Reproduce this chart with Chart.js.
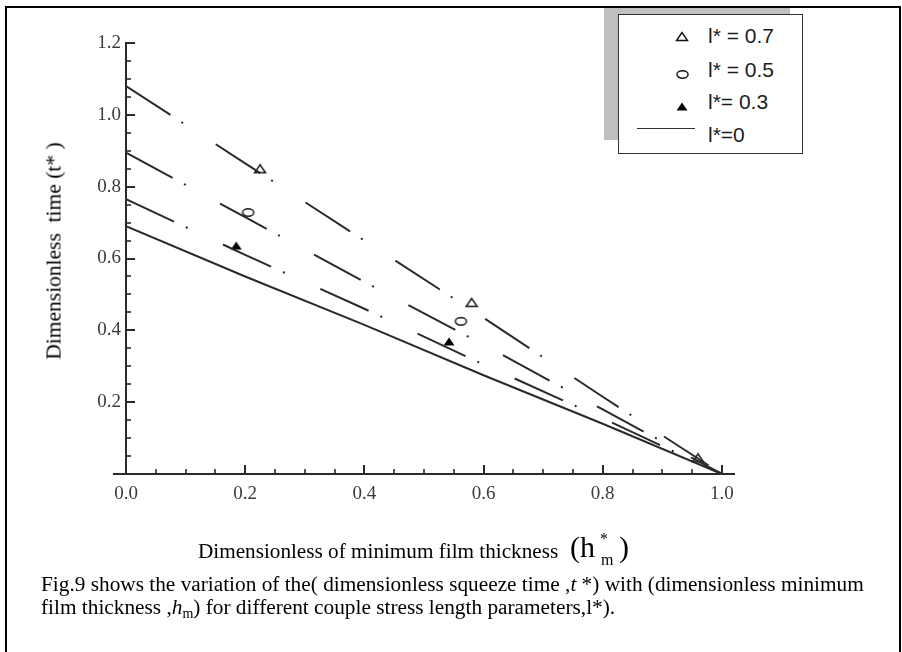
<!DOCTYPE html>
<html><head><meta charset="utf-8">
<script src="https://cdn.jsdelivr.net/npm/chart.js@4.4.1/dist/chart.umd.min.js"></script>
<style>
html,body{margin:0;padding:0;background:#fff;}
body{width:902px;height:652px;position:relative;overflow:hidden;}
#c{position:absolute;left:0;top:0;}
#frame{position:absolute;left:5px;top:6px;width:892px;height:660px;border:2px solid #000;border-bottom:none;}
#shadow{position:absolute;left:604px;top:8px;width:186px;height:132px;background:#c0c0c0;}
#legend{position:absolute;left:618px;top:14px;width:185px;height:140px;box-sizing:border-box;border:1.5px solid #333;background:#fff;}
.t{position:absolute;white-space:pre;line-height:0;color:#000;font-family:"Liberation Serif","Times New Roman",serif;}
.lg{position:absolute;white-space:pre;line-height:0;color:#1c1c1c;font-family:"Liberation Sans",Arial,sans-serif;}
#ytitle{position:absolute;left:53.5px;top:250.5px;transform:translate(-50%,-50%) rotate(-90deg);white-space:pre;font-family:"Liberation Serif","Times New Roman",serif;font-size:21.5px;color:#000;}
.mk{position:absolute;}
</style>
</head>
<body>
<div id="frame"></div>
<canvas id="c" width="902" height="652"></canvas>
<div id="shadow"></div>
<div id="legend"></div>
<div id="ytitle">Dimensionless  time (t* )</div>
<script>
// ---- data ----
const hm  = [0, 0.2, 0.4, 0.6, 0.8, 1.0];
const t07 = [1.08, 0.865, 0.65, 0.435, 0.215, 0];
const t05 = [0.895, 0.715, 0.535, 0.36, 0.18, 0];
const t03 = [0.765, 0.61, 0.46, 0.305, 0.155, 0];
const t00 = [0.69, 0.55, 0.415, 0.275, 0.14, 0];

const m07x = [0.225, 0.58, 0.96];
const m07y = [0.85, 0.478, 0.045];
const m05x = [0.205, 0.562];
const m05y = [0.728, 0.425];
const m03x = [0.185, 0.542];
const m03y = [0.636, 0.369];

const xTicks = [0, 0.2, 0.4, 0.6, 0.8, 1.0];
const xTickLabels = ['0.0','0.2','0.4','0.6','0.8','1.0'];
const yTicks = [0.2, 0.4, 0.6, 0.8, 1.0, 1.2];
const yTickLabels = ['0.2','0.4','0.6','0.8','1.0','1.2'];
const minorStep = 0.05;

const legendLabels = ['l* = 0.7', 'l* = 0.5', 'l*= 0.3', 'l*=0'];

// ---- marker images ----
function mkCanvas(w,h,draw){const c=document.createElement('canvas');c.width=w;c.height=h;const g=c.getContext('2d');draw(g);return c;}
const triOpen = mkCanvas(14,11,g=>{g.strokeStyle='#111';g.lineWidth=1.4;g.beginPath();g.moveTo(1.5,9.5);g.lineTo(12.5,9.5);g.lineTo(7,1.5);g.closePath();g.fillStyle='#fff';g.fill();g.stroke();});
const triFill = mkCanvas(14,11,g=>{g.fillStyle='#000';g.beginPath();g.moveTo(1.5,9.5);g.lineTo(12.5,9.5);g.lineTo(7,1.5);g.closePath();g.fill();});
const ellOpen = mkCanvas(15,11,g=>{g.strokeStyle='#111';g.lineWidth=1.4;g.beginPath();g.ellipse(7.5,5.5,5.6,3.7,0,0,Math.PI*2);g.fillStyle='#fff';g.fill();g.stroke();});

const pts = (xs,ys)=>xs.map((v,i)=>({x:v,y:ys[i]}));
const dashDot = [53, 13, 2, 39];
const lineCol = '#2a2a2a';

function lineDs(data, dash){
  return {data:pts(hm,data), showLine:true, borderColor:lineCol, borderWidth:2, borderDash:dash, pointRadius:0, fill:false, tension:0};
}
function markDs(xs,ys,img){
  return {data:pts(xs,ys), showLine:false, pointStyle:img, pointRadius:6, pointHoverRadius:6};
}

const axisPlugin = {
  id:'axesDraw',
  afterDatasetsDraw(chart){
    const {ctx, scales:{x,y}} = chart;
    const x0 = x.getPixelForValue(0), y0 = y.getPixelForValue(0);
    ctx.save();
    ctx.strokeStyle = '#2b2b2b';
    ctx.lineWidth = 2;
    ctx.beginPath();
    ctx.moveTo(x.getPixelForValue(-0.022), y0);
    ctx.lineTo(x.getPixelForValue(1.022), y0);
    ctx.moveTo(x0, y0);
    ctx.lineTo(x0, y.getPixelForValue(1.2) - 1);
    ctx.stroke();
    // y ticks
    for (let v = minorStep; v <= 1.2001; v += minorStep) {
      const major = Math.abs(v/0.2 - Math.round(v/0.2)) < 1e-6;
      const py = Math.round(y.getPixelForValue(v));
      ctx.lineWidth = major ? 2 : 1.6;
      ctx.beginPath(); ctx.moveTo(x0, py); ctx.lineTo(x0 + (major ? 9 : 5), py); ctx.stroke();
    }
    for (let v = minorStep; v <= 1.0001; v += minorStep) {
      const major = Math.abs(v/0.2 - Math.round(v/0.2)) < 1e-6;
      const px = Math.round(x.getPixelForValue(v));
      ctx.lineWidth = major ? 2 : 1.6;
      ctx.beginPath(); ctx.moveTo(px, y0); ctx.lineTo(px, y0 - (major ? 9 : 5)); ctx.stroke();
    }
    ctx.restore();
  }
};

new Chart(document.getElementById('c'), {
  type:'scatter',
  data:{datasets:[
    lineDs(t07, dashDot),
    lineDs(t05, dashDot),
    lineDs(t03, dashDot),
    lineDs(t00, []),
    markDs(m07x, m07y, triOpen),
    markDs(m05x, m05y, ellOpen),
    markDs(m03x, m03y, triFill)
  ]},
  options:{
    responsive:false, animation:false, devicePixelRatio:1,
    layout:{padding:{left:0, right:167, top:43, bottom:138}},
    plugins:{legend:{display:false}, tooltip:{enabled:false}},
    scales:{
      x:{type:'linear', min:0, max:1.022,
        afterBuildTicks:s=>{s.ticks = xTicks.map(v=>({value:v}));},
        afterFit:s=>{s.height = 40;},
        grid:{display:false, drawTicks:false}, border:{display:false},
        ticks:{padding:9, color:'#3a3a3a', font:{family:'"Liberation Serif", serif', size:19}, callback:(v,i)=>xTickLabels[i]}
      },
      y:{type:'linear', min:0, max:1.2,
        afterBuildTicks:s=>{s.ticks = yTicks.map(v=>({value:v}));},
        afterFit:s=>{s.width = 126;},
        grid:{display:false, drawTicks:false}, border:{display:false},
        ticks:{padding:5, color:'#3a3a3a', font:{family:'"Liberation Serif", serif', size:19}, callback:(v,i)=>yTickLabels[i]}
      }
    }
  },
  plugins:[axisPlugin]
});

// ---- text helpers (baseline placement) ----
function addText(html, x, baseline, size, cls, k){
  const d = document.createElement('div');
  d.className = cls;
  d.style.fontSize = size + 'px';
  d.style.left = x + 'px';
  d.style.top = (baseline - k*size) + 'px';
  d.innerHTML = html;
  document.body.appendChild(d);
  return d;
}
const KS = 0.3375, KA = 0.3465;

// x axis title
addText('Dimensionless of minimum film thickness', 198, 557.7, 21.2, 't', KS);
addText('(h', 570, 557.5, 30, 't', KS);
addText('*', 600, 544, 16, 't', KS);
addText('m', 601, 565, 16, 't', KS);
addText(')', 619, 557.5, 30, 't', KS);

// caption
addText('Fig.9 shows the variation of the( dimensionless squeeze time ,<i>t</i> *) with (dimensionless minimum', 41, 591, 21.3, 't', KS);
addText('film thickness ,<i>h</i><span style="font-size:14px;position:relative;top:4px">m</span>) for different couple stress length parameters,l*).', 41, 614, 21.3, 't', KS);

// legend
const legBase = [43, 77, 109, 142];
legendLabels.forEach((s,i)=>addText(s, 708, legBase[i], 21, 'lg', KA));
const legImgs = [[triOpen, 36.5], [ellOpen, 74.5], [triFill, 106]];
legImgs.forEach(([c, cy])=>{
  const im = document.createElement('img');
  im.src = c.toDataURL();
  im.className = 'mk';
  im.style.left = (682 - c.width/2) + 'px';
  im.style.top = (cy - c.height/2) + 'px';
  document.body.appendChild(im);
});
const ll = document.createElement('div');
ll.style.cssText = 'position:absolute;left:637px;top:128px;width:58px;height:0;border-top:1.5px solid #333;';
document.body.appendChild(ll);
</script>
</body></html>
